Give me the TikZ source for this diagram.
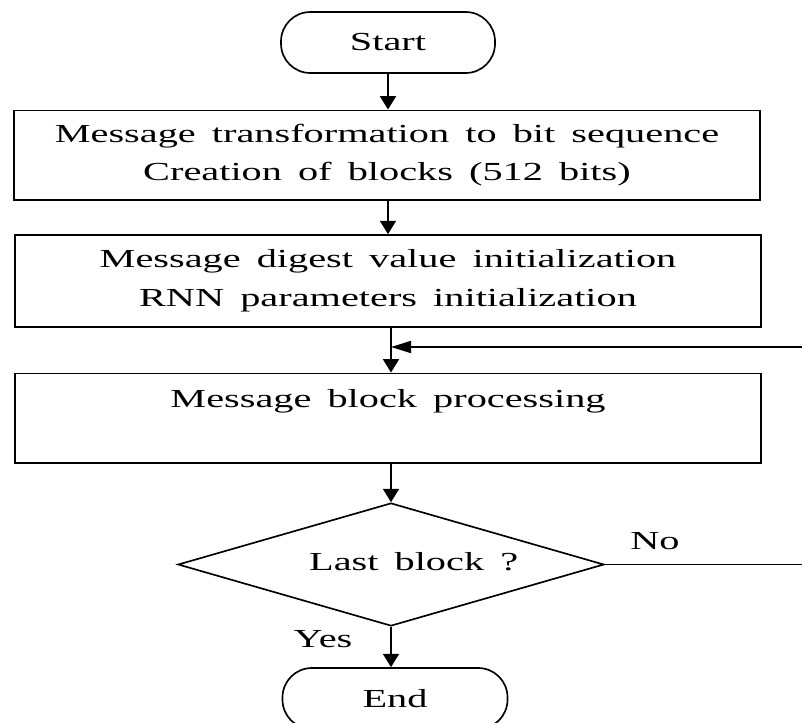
\documentclass[tikz,border=0pt]{standalone}
\usepackage{fontspec}
\setmainfont{Liberation Serif}[FakeStretch=1.55,WordSpace=1.6]
\usetikzlibrary{shapes.geometric,arrows.meta}

\begin{document}
\begin{tikzpicture}[x=0.75pt,y=-0.75pt,line width=1.25pt,
  >={Triangle[length=10pt,width=12pt]},
  font=\fontsize{19.5pt}{29pt}\selectfont,
  terminal/.style={draw,rectangle,rounded corners=22pt,minimum width=160.5pt,minimum height=45.75pt,inner sep=0pt},
  process/.style={draw,rectangle,minimum width=559.5pt,minimum height=67pt,align=center,inner sep=0pt},
  decision/.style={draw,diamond,shape aspect=3.46,minimum width=319.5pt,minimum height=92.25pt,inner sep=0pt},
  back/.style={-{Triangle[length=15pt,width=9pt]}}]
  \useasboundingbox (0,0) rectangle (802,722);
  % steps of the flow
  \node[terminal] (start) at (388,42.5) {Start};
  \node[process] (trans) at (387,155) {Message transformation to bit sequence\\Creation of blocks (512 bits)};
  \node[process,minimum height=69pt] (digest) at (388,281) {Message digest value initialization\\RNN parameters initialization};
  \node[process] (block) at (388,418) {Message block processing\\\mbox{}};
  \node[decision,label={[xshift=17pt,yshift=2pt]center:Last block ?}] (last) at (391,564.5) {};
  \node[terminal,minimum width=168.75pt] (stop) at (395,698.5) {End};
  % loop back from the decision
  \coordinate (loop) at (802,347);
  \coordinate (out) at (802,564.5);
  \node (no) at (655,541) {No};
  \node (yes) at (323,639) {Yes};
  \draw[->] (start.south) -- (start.south |- trans.north);
  \draw[->] (trans.south -| digest) -- (digest.north);
  \draw[->] (digest.south -| last) -- (last.north |- block.north);
  \draw[back] (loop) -- (loop -| last.north);
  \draw[->] (block.south -| last) -- (last.north);
  \draw[->] (last.south) -- (last.south |- stop.north);
  \draw (last.east) -- (out);
\end{tikzpicture}
\end{document}
